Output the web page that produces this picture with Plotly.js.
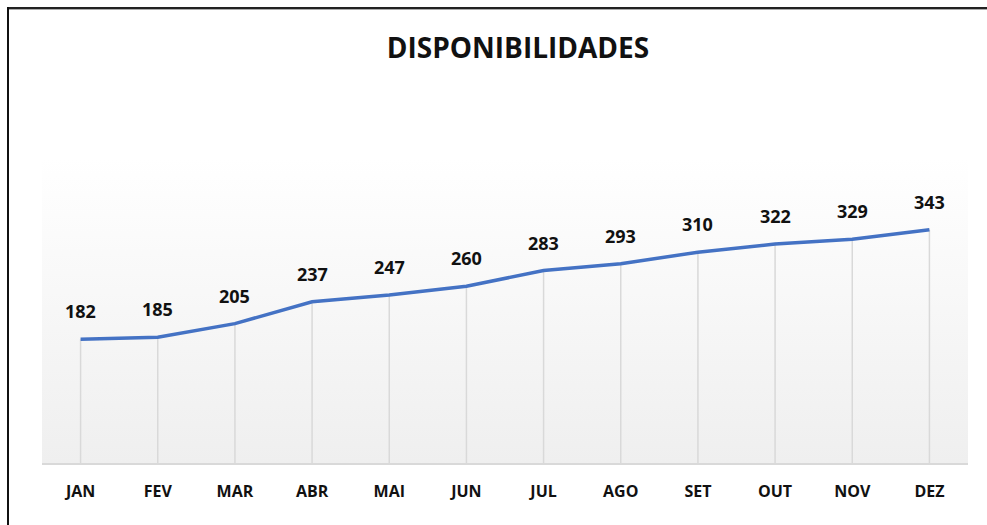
<!DOCTYPE html>
<html>
<head>
<meta charset="utf-8">
<script src="https://cdn.plot.ly/plotly-3.0.1.min.js"></script>
<style>
  html, body { margin: 0; padding: 0; background: #fff; }
  #chart { position: absolute; left: 0; top: 0; width: 987px; height: 525px; }
  #frameTop { position: absolute; left: 7px; top: 7px; width: 980px; height: 2px; background: #222; border-bottom: 1px solid #aaa; z-index: 5; }
  #frameLeft { position: absolute; left: 7px; top: 7px; width: 2px; height: 518px; background: #111; z-index: 5; }
</style>
</head>
<body>
<div id="chart"></div>
<div id="frameTop"></div>
<div id="frameLeft"></div>
<script>
const months = ["JAN","FEV","MAR","ABR","MAI","JUN","JUL","AGO","SET","OUT","NOV","DEZ"];
const values = [182,185,205,237,247,260,283,293,310,322,329,343];
const chartTitle = "DISPONIBILIDADES";

const zeros = values.map(() => 0);
const font = "'Open Sans', 'Noto Sans', sans-serif";

const gradSvg = "<svg xmlns='http://www.w3.org/2000/svg' width='10' height='100' preserveAspectRatio='none'>" +
  "<defs><linearGradient id='g' x1='0' y1='0' x2='0' y2='1'>" +
  "<stop offset='0' stop-color='#ffffff'/><stop offset='1' stop-color='#efefef'/></linearGradient></defs>" +
  "<rect width='10' height='100' fill='url(#g)'/></svg>";
const gradUri = "data:image/svg+xml;charset=utf-8," + encodeURIComponent(gradSvg);

const dropTrace = {
  x: months, y: values, type: "scatter", mode: "markers",
  marker: { size: 1, opacity: 0 },
  error_y: { type: "data", symmetric: false, array: zeros, arrayminus: values,
             color: "#d9d9d9", thickness: 1.5, width: 0 },
  hoverinfo: "skip", showlegend: false
};
const lineTrace = {
  x: months, y: values, type: "scatter", mode: "lines",
  line: { color: "#4472C4", width: 3.5 },
  showlegend: false
};

const annotations = months.map((m, i) => ({
  x: m, y: values[i], xref: "x", yref: "y",
  text: String(values[i]), showarrow: false, yshift: 28,
  font: { family: font, size: 18, color: "#111", weight: "bold" }
}));

const layout = {
  width: 987, height: 525,
  margin: { l: 42, r: 19, t: 157, b: 62 },
  paper_bgcolor: "rgba(0,0,0,0)",
  plot_bgcolor: "rgba(0,0,0,0)",
  title: { text: "<b>" + chartTitle + "</b>", x: 0.5248, xref: "container", y: 0.909, yref: "container",
           xanchor: "center", yanchor: "middle",
           font: { family: font, size: 28, color: "#111" } },
  xaxis: { type: "category", range: [-0.5, 11.5], showgrid: false, zeroline: false,
           showline: true, linecolor: "#d9d9d9", linewidth: 1.5,
           ticks: "", tickfont: { family: font, size: 16, color: "#111", weight: "bold" },
           ticklabelstandoff: 13 },
  yaxis: { range: [0, 450], visible: false, showgrid: false, zeroline: false },
  images: [{ source: gradUri, xref: "paper", yref: "paper", x: 0, y: 1, sizex: 1, sizey: 1,
             sizing: "stretch", layer: "below", xanchor: "left", yanchor: "top" }],
  annotations: annotations
};

Plotly.newPlot("chart", [dropTrace, lineTrace], layout, { displayModeBar: false, staticPlot: true });
</script>
</body>
</html>
